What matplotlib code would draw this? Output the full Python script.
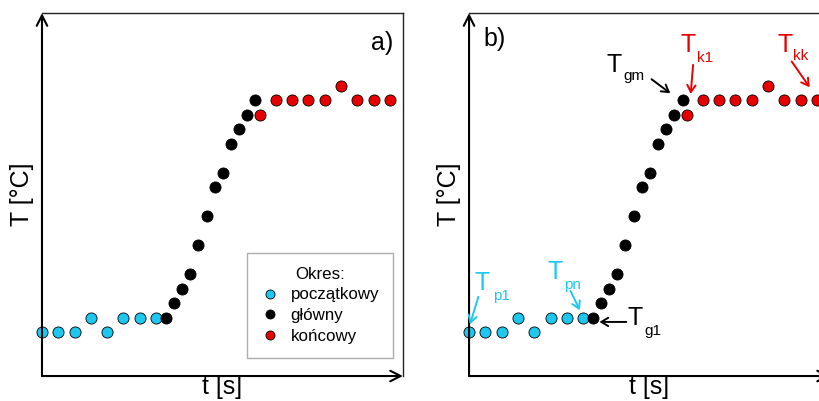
import matplotlib
matplotlib.use("Agg")
import matplotlib.pyplot as plt
from matplotlib.lines import Line2D

plt.rcParams['font.family'] = ['Liberation Sans', 'DejaVu Sans']

# Data (time index, temperature in arbitrary units)
t_pocz = [0, 2, 4, 6, 8, 10, 12, 14]
T_pocz = [132, 132, 132, 175, 132, 175, 175, 175]
t_glow = [15.2, 16.2, 17.2, 18.2, 19.2, 20.2, 21.2, 22.2, 23.2, 24.2, 25.2, 26.2]
T_glow = [175, 219, 262, 305, 392, 479, 565, 609, 695, 739, 782, 827]
t_konc = [26.7, 28.7, 30.7, 32.7, 34.7, 36.7, 38.7, 40.7, 42.7]
T_konc = [782, 827, 827, 827, 827, 870, 827, 827, 827]

labels = ['początkowy', 'główny', 'końcowy']
CYAN = '#1CC8F0'
RED = '#E80000'
colors = [CYAN, 'black', RED]

XMAX, YMAX = 44.3, 1087

fig = plt.figure(figsize=(8.2, 4.01), dpi=100)
axw, axh = 0.4402, 0.905
ax_a = fig.add_axes([0.0512, 0.0623, axw, axh])
ax_b = fig.add_axes([0.572, 0.0623, axw, axh])

for ax in (ax_a, ax_b):
    for x, y, c in zip((t_pocz, t_glow, t_konc), (T_pocz, T_glow, T_konc), colors):
        ax.plot(x, y, 'o', ms=8, mfc=c, mec='black', mew=0.6, clip_on=False, zorder=3)
    ax.set_xlim(0, XMAX)
    ax.set_ylim(0, YMAX)
    ax.set_xticks([])
    ax.set_yticks([])
    ax.spines['left'].set_visible(False)
    ax.spines['bottom'].set_visible(False)
    ax.spines['top'].set_linewidth(1.0)
    ax.spines['right'].set_linewidth(1.0)
    ax.spines['top'].set_color('#222222')
    ax.spines['right'].set_color('#222222')
    ap = dict(arrowstyle='->,head_length=0.75,head_width=0.38', lw=1.5, color='black',
              shrinkA=0, shrinkB=0)
    ax.annotate('', xy=(0, 1), xytext=(0, 0), xycoords='axes fraction',
                textcoords='axes fraction', arrowprops=ap, annotation_clip=False)
    ax.annotate('', xy=(1, 0), xytext=(0, 0), xycoords='axes fraction',
                textcoords='axes fraction', arrowprops=ap, annotation_clip=False)
    ax.set_xlabel('t [s]', fontsize=18, labelpad=-1)
    ax.set_ylabel('T [°C]', fontsize=18, labelpad=6)

ax_a.text(0.972, 0.917, 'a)', transform=ax_a.transAxes, fontsize=18, ha='right', va='center')
ax_b.text(0.039, 0.928, 'b)', transform=ax_b.transAxes, fontsize=18, ha='left', va='center')

handles = [Line2D([], [], ls='none', marker='o', ms=6.5, mfc=c, mec='black', mew=0.6)
           for c in colors]
leg = ax_a.legend(handles, labels, title='Okres:', loc='lower right',
                  bbox_to_anchor=(0.972, 0.05), fontsize=12.2, title_fontsize=12.2,
                  frameon=True, fancybox=False, edgecolor='#999999',
                  borderpad=0.8, labelspacing=0.35, handletextpad=0.6,
                  handlelength=1.2, borderaxespad=0)
leg.get_frame().set_linewidth(1.0)

# Annotations in panel b
ap2 = dict(arrowstyle='->,head_length=0.5,head_width=0.3', lw=1.4, shrinkA=0, shrinkB=0)
notes = [
    # main T pos, sub text, sub pos, arrow tail, arrow tip, color
    ((0.73, 257), 'p1', (2.9, 229), (1.14, 237), (0.12, 155), CYAN),
    ((9.6, 292), 'pn', (11.6, 262), (12.45, 255), (13.6, 197), CYAN),
    ((19.5, 152), 'g1', (21.5, 122), (19.3, 162), (16.0, 162), 'black'),
    ((16.9, 912), 'gm', (18.9, 887), (22.4, 889), (24.7, 847), 'black'),
    ((26.0, 972), 'k1', (28.0, 942), (27.5, 932), (27.2, 845), RED),
    ((37.9, 972), 'kk', (39.8, 947), (39.6, 942), (41.8, 865), RED),
]
for (tp, sub, sp, tail, tip, c) in notes:
    ax_b.text(tp[0], tp[1], 'T', fontsize=18, color=c, ha='left', va='baseline')
    ax_b.text(sp[0], sp[1], sub, fontsize=11, color=c, ha='left', va='baseline')
    ax_b.annotate('', xy=tip, xytext=tail, arrowprops=dict(ap2, color=c),
                  annotation_clip=False)

fig.savefig('out.png', dpi=100)
